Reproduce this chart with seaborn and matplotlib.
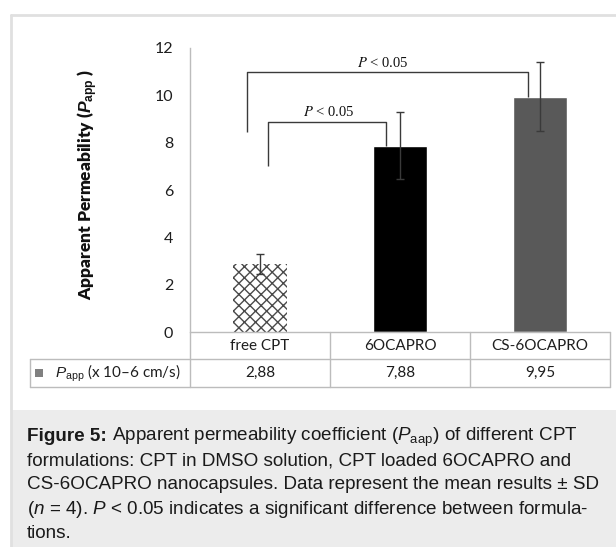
import matplotlib
matplotlib.use("Agg")
import matplotlib.pyplot as plt
import matplotlib.transforms as mtransforms
from matplotlib.lines import Line2D
from matplotlib.patches import Rectangle
import seaborn as sns
import pandas as pd

# ---- data ----
categories = ["free CPT", "6OCAPRO", "CS-6OCAPRO"]
papp_values = [2.88, 7.88, 9.95]
papp_sd = [0.42, 1.42, 1.44]
value_labels = ["2,88", "7,88", "9,95"]
y_ticks = [0, 2, 4, 6, 8, 10, 12]
sig_label = "P < 0.05"

bar_colors = ["#ffffff", "#000000", "#595959"]

sns.set_theme(style="white")
plt.rcParams["font.family"] = ["Lato", "DejaVu Sans"]
plt.rcParams["mathtext.fontset"] = "custom"
plt.rcParams["mathtext.rm"] = "Liberation Sans"
plt.rcParams["mathtext.it"] = "Liberation Sans:italic"
plt.rcParams["mathtext.bf"] = "Liberation Sans:bold"
plt.rcParams["mathtext.bfit"] = "Liberation Sans:italic:bold"
plt.rcParams["hatch.linewidth"] = 1.0

W, H = 616, 547
fig = plt.figure(figsize=(W / 100, H / 100), dpi=100)
fig.patch.set_facecolor("white")


def fx(px):
    return px / W


def fy(py):
    return 1 - py / H


# frame and caption box
fig.add_artist(Rectangle((fx(11), 0), fx(616) - fx(11), fy(410), transform=fig.transFigure,
                         facecolor="#ececec", edgecolor="none", zorder=0))
fig.add_artist(Line2D([fx(11), fx(616)], [fy(15), fy(15)], transform=fig.transFigure,
                      color="#e0e0e0", lw=2, zorder=1))
fig.add_artist(Line2D([fx(11), fx(11)], [fy(15), 0], transform=fig.transFigure,
                      color="#e0e0e0", lw=2, zorder=1))

# axes: x 190..610 px, y 48..332 px
ax = fig.add_axes([fx(190), fy(332), fx(610) - fx(190), fy(48) - fy(332)])
ax.set_facecolor("none")

df = pd.DataFrame({"cat": categories, "val": papp_values})
sns.barplot(data=df, x="cat", y="val", hue="cat", palette=bar_colors, width=0.39,
            errorbar=None, legend=False, ax=ax, saturation=1)

first = ax.patches[0]
first.set_facecolor("white")
first.set_hatch("xxx")
first.set_edgecolor("#4a4a4a")
first.set_linewidth(0)

ax.errorbar(range(len(categories)), papp_values, yerr=papp_sd, fmt="none",
            ecolor="#3a3a3a", elinewidth=1, capsize=3.1, capthick=1, zorder=5)

ax.set_xlim(-0.5, 2.5)
ax.set_ylim(0, 12)
ax.set_yticks(y_ticks)
ax.set_yticklabels([str(t) for t in y_ticks], fontsize=11.5, color="#1e1e1e")
ax.tick_params(axis="y", length=0, pad=12)
ax.set_xticks([])
ax.set_xlabel("")
ax.set_ylabel("")
for s in ["top", "right", "bottom"]:
    ax.spines[s].set_visible(False)
ax.spines["left"].set_color("#bcbcbc")
ax.spines["left"].set_linewidth(1)

# significance brackets
bk = dict(color="#3a3a3a", lw=1, solid_capstyle="butt")
ax.plot([0.057, 0.057, 0.9, 0.9], [7.01, 8.87, 8.87, papp_values[1]], **bk)
ax.plot([-0.093, -0.093, 1.914, 1.914], [8.45, 10.98, 10.98, papp_values[2]], **bk)
for xc, yc in [(0.493, 9.29), (0.879, 11.37)]:
    ax.text(xc, yc, "$P$ < 0.05", ha="center", va="center", fontsize=10.5,
            family="Liberation Serif", math_fontfamily="stix", color="#111111")

# y label
fig.text(fx(88), fy(184), r"Apparent Permeability ($\mathbfit{P}_{\mathbf{app}}$ )",
         rotation=90, ha="center", va="center", fontsize=12.5, fontweight="heavy",
         color="#111111")

# data table below axis
tc = "#bcbcbc"
for py, x0 in [(332, 190), (359, 30), (387, 30)]:
    fig.add_artist(Line2D([fx(x0), fx(610)], [fy(py), fy(py)], transform=fig.transFigure,
                          color=tc, lw=1))
for px in [190, 330, 470, 610]:
    fig.add_artist(Line2D([fx(px), fx(px)], [fy(332), fy(387)], transform=fig.transFigure,
                          color=tc, lw=1))
fig.add_artist(Line2D([fx(30), fx(30)], [fy(359), fy(387)], transform=fig.transFigure,
                      color=tc, lw=1))

trans = mtransforms.blended_transform_factory(ax.transData, fig.transFigure)
for i, (c, v) in enumerate(zip(categories, value_labels)):
    ax.text(i, fy(345.5), c, transform=trans, ha="center", va="center", fontsize=11,
            color="#1e1e1e")
    ax.text(i, fy(373), v, transform=trans, ha="center", va="center", fontsize=11,
            color="#1e1e1e")

fig.add_artist(Rectangle((fx(35), fy(377)), fx(8), fy(369) - fy(377), transform=fig.transFigure,
                         facecolor="#808080", edgecolor="none"))
fig.text(fx(55), fy(373), r"$P_{\mathrm{app}}$ (x 10–6 cm/s)", ha="left", va="center",
         fontsize=11, color="#1e1e1e")

# caption
cap_kw = dict(fontsize=13.6, family="Liberation Sans", color="#1a1a1a")
caption_head = "Figure 5:"
caption_lines = [
    r"Apparent permeability coefficient ($P_{\mathrm{aap}}$) of different CPT",
    "formulations: CPT in DMSO solution, CPT loaded 6OCAPRO and",
    "CS-6OCAPRO nanocapsules. Data represent the mean results ± SD",
    r"($n$ = 4). $P$ < 0.05 indicates a significant difference between formula-",
    "tions.",
]
caption_base = [441, 465, 489, 514, 538]
head = fig.text(fx(27), fy(caption_base[0]), caption_head, ha="left", va="baseline",
                fontweight="bold", **cap_kw)
ax.annotate(caption_lines[0], xy=(1, fy(caption_base[0])), xycoords=(head, "figure fraction"),
            xytext=(3.5, 0), textcoords="offset points", ha="left", va="baseline",
            annotation_clip=False, **cap_kw)
for line, py in zip(caption_lines[1:], caption_base[1:]):
    fig.text(fx(27), fy(py), line, ha="left", va="baseline", **cap_kw)

fig.savefig("out.png", dpi=100)
